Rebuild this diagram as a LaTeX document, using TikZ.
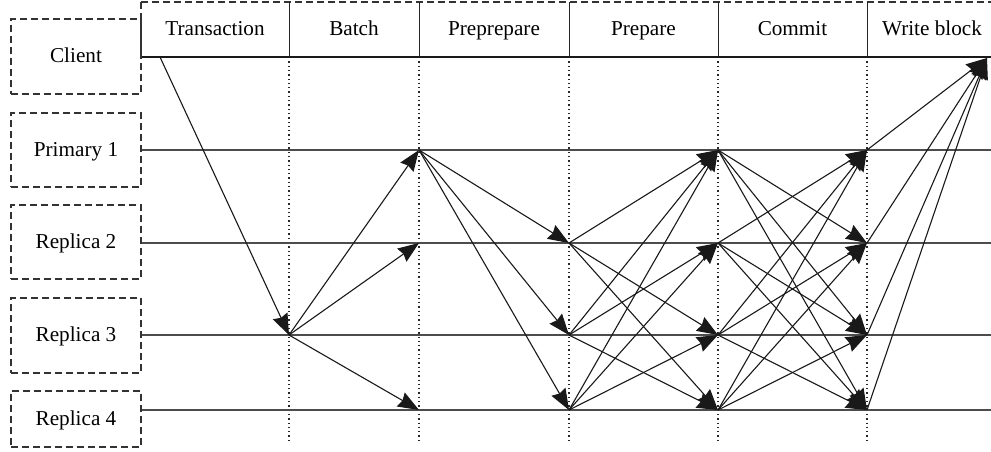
\documentclass[tikz,border=0pt]{standalone}
\usepackage{fontspec}
\setmainfont{Liberation Serif}
\usetikzlibrary{arrows.meta}
\begin{document}
\begin{tikzpicture}[x=1pt,y=-1pt,
  font=\fontsize{21.2}{25}\selectfont,
  lbox/.style={draw=black!80, line width=1.2pt, dash pattern=on 7pt off 4pt, minimum width=130pt, inner sep=0pt, text height=14pt, text depth=2pt},
  hdr/.style={inner sep=0pt, anchor=base},
  tl/.style={draw=black!70, line width=1.8pt},
  guide/.style={draw=black!85, line width=1.2pt, dash pattern=on 1.3pt off 3pt},
  msg/.style={draw=black!90, line width=1.1pt, -{Stealth[length=21pt,width=16pt,inset=2pt]}}]
\useasboundingbox (0,0) rectangle (991,451);

% left participant boxes
\node[lbox, minimum height=75pt] (client) at (76,56.5) {Client};
\node[lbox, minimum height=74pt] (prim) at (76,150) {Primary 1};
\node[lbox, minimum height=74pt] (rep2) at (76,242) {Replica 2};
\node[lbox, minimum height=75pt] (rep3) at (76,335.5) {Replica 3};
\node[lbox, minimum height=56pt] (rep4) at (76,419) {Replica 4};

% header
\draw[draw=black!80, line width=1.2pt, dash pattern=on 7pt off 4pt] (141,2) -- (995,2);
\draw[draw=black!80, line width=1.2pt, dash pattern=on 7pt off 4pt] (141,2) -- (141,57);
\foreach \x in {289,419,569,718,867}
  \draw[black!85, line width=1pt] (\x,2) -- (\x,57);
\node[hdr] (h1) at (215,35) {Transaction};
\node[hdr] (h2) at (354,35) {Batch};
\node[hdr] (h3) at (494,35) {Preprepare};
\node[hdr] (h4) at (643.5,35) {Prepare};
\node[hdr] (h5) at (792.5,35) {Commit};
\node[hdr] (h6) at (932,35) {Write block};

% guides
\foreach \x in {289,419,569,718,867}
  \draw[guide] (\x,57) -- (\x,443);

% timelines
\draw[draw=black!90, line width=1.5pt] (client.east |- 0,57) -- (991,57);
\draw[tl] (prim.east) -- (991,150);
\draw[tl] (rep2.east |- 0,243) -- (991,243);
\draw[tl] (rep3.east |- 0,335) -- (991,335);
\draw[tl] (rep4.east |- 0,410) -- (991,410);

% event points
\coordinate (c0) at (160,57);
\coordinate (w) at (987,58);
\coordinate (a3) at (289,335);
\coordinate (b1) at (419,150);
\coordinate (b2) at (419,243);
\coordinate (b4) at (419,410);
\coordinate (p2) at (569,243);
\coordinate (p3) at (569,335);
\coordinate (p4) at (569,410);
\coordinate (d1) at (718,150);
\coordinate (d2) at (718,243);
\coordinate (d3) at (718,335);
\coordinate (d4) at (718,410);
\coordinate (e1) at (867,150);
\coordinate (e2) at (867,243);
\coordinate (e3) at (867,335);
\coordinate (e4) at (867,410);

% transaction
\draw[msg] (c0) -- (a3);
% batch
\draw[msg] (a3) -- (b1);
\draw[msg] (a3) -- (b2);
\draw[msg] (a3) -- (b4);
% preprepare
\draw[msg] (b1) -- (p2);
\draw[msg] (b1) -- (p3);
\draw[msg] (b1) -- (p4);
% prepare
\draw[msg] (p2) -- (d1);
\draw[msg] (p2) -- (d3);
\draw[msg] (p2) -- (d4);
\draw[msg] (p3) -- (d1);
\draw[msg] (p3) -- (d2);
\draw[msg] (p3) -- (d4);
\draw[msg] (p4) -- (d1);
\draw[msg] (p4) -- (d2);
\draw[msg] (p4) -- (d3);
% commit
\draw[msg] (d1) -- (e2);
\draw[msg] (d1) -- (e3);
\draw[msg] (d1) -- (e4);
\draw[msg] (d2) -- (e1);
\draw[msg] (d2) -- (e3);
\draw[msg] (d2) -- (e4);
\draw[msg] (d3) -- (e1);
\draw[msg] (d3) -- (e2);
\draw[msg] (d3) -- (e4);
\draw[msg] (d4) -- (e1);
\draw[msg] (d4) -- (e2);
\draw[msg] (d4) -- (e3);
% write block
\draw[msg] (e1) -- (w);
\draw[msg] (e2) -- (w);
\draw[msg] (e3) -- (w);
\draw[msg] (e4) -- (w);
\end{tikzpicture}
\end{document}
